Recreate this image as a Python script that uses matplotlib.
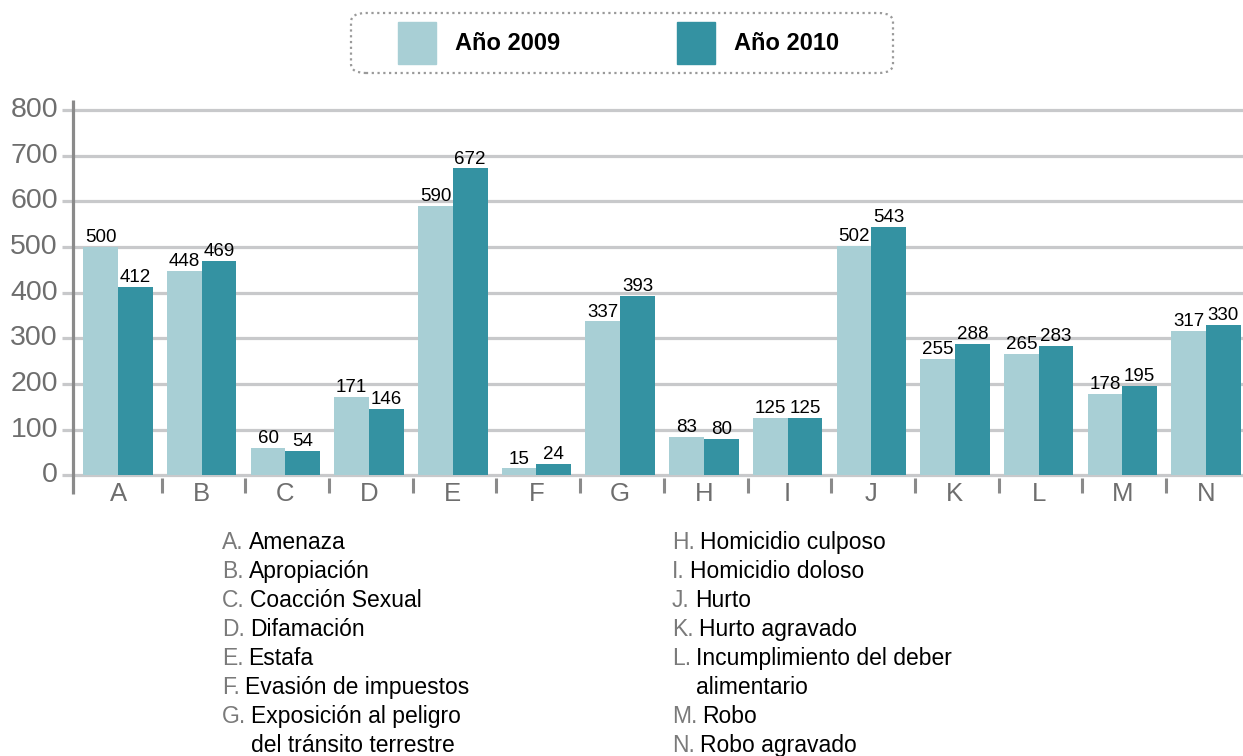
import matplotlib.pyplot as plt
from matplotlib.patches import FancyBboxPatch, Rectangle
import numpy as np

plt.rcParams["font.family"] = ["Liberation Sans", "DejaVu Sans"]

# Data
letters = ["A", "B", "C", "D", "E", "F", "G", "H", "I", "J", "K", "L", "M", "N"]
crimes = [
    "Amenaza",
    "Apropiación",
    "Coacción Sexual",
    "Difamación",
    "Estafa",
    "Evasión de impuestos",
    "Exposición al peligro\ndel tránsito terrestre",
    "Homicidio culposo",
    "Homicidio doloso",
    "Hurto",
    "Hurto agravado",
    "Incumplimiento del deber\nalimentario",
    "Robo",
    "Robo agravado",
]
values_2009 = [500, 448, 60, 171, 590, 15, 337, 83, 125, 502, 255, 265, 178, 317]
values_2010 = [412, 469, 54, 146, 672, 24, 393, 80, 125, 543, 288, 283, 195, 330]
series_names = ["Año 2009", "Año 2010"]
y_ticks = [0, 100, 200, 300, 400, 500, 600, 700, 800]

light = "#a8cfd5"
dark = "#3492a2"
grid_col = "#c8c9cb"
axis_col = "#8a8a8a"
label_col = "#6e6e6e"

W, H = 1243, 756
fig = plt.figure(figsize=(W / 100, H / 100), dpi=100)

# axes placed in pixel terms
ax_left, ax_right, ax_top, ax_bottom = 73, 1243, 100, 494
ax = fig.add_axes([ax_left / W, 1 - ax_bottom / H,
                   (ax_right - ax_left) / W, (ax_bottom - ax_top) / H])
ax.set_xlim(-0.06, 13.92)
ax.set_ylim(-41, 822)
for s in ax.spines.values():
    s.set_visible(False)
ax.set_xticks([])
ax.set_yticks([])

# gridlines with a short stub left of the axis
ax.hlines(y_ticks, -0.19, 13.92, colors=grid_col, linewidth=2.3,
          clip_on=False, zorder=0)
ax.vlines(-0.06, -41, 822, colors=axis_col, linewidth=2.3, clip_on=False,
          zorder=3)
for t in y_ticks:
    ax.text(-0.24, t, str(t), ha="right", va="center", fontsize=20.5,
            color=label_col)

# group boundary ticks
ax.vlines(np.arange(1, 14), -5, -38, colors=axis_col, linewidth=2.2, zorder=3)

x = np.arange(len(letters))
bw = 0.415
centre = x + 0.478
ax.bar(centre - bw, values_2009, width=bw, align="edge", color=light, zorder=2)
ax.bar(centre, values_2010, width=bw, align="edge", color=dark, zorder=2)

for c, v in zip(centre - bw / 2, values_2009):
    ax.text(c, v + 2, str(v), ha="center", va="bottom", fontsize=13.5,
            color="black")
for c, v in zip(centre + bw / 2, values_2010):
    ax.text(c, v + 2, str(v), ha="center", va="bottom", fontsize=13.5,
            color="black")

for i, lab in enumerate(letters):
    ax.text(centre[i], -42, lab, ha="center", va="center", fontsize=18.5,
            color=label_col)

# top legend box
box = FancyBboxPatch((351 / W, 1 - 73 / H), (893 - 351) / W, (73 - 13) / H,
                     boxstyle="round,pad=0,rounding_size=0.012",
                     transform=fig.transFigure, fill=False,
                     edgecolor="#9a9a9a", linestyle=(0, (1, 1.6)),
                     linewidth=1.6)
fig.patches.append(box)
for px, name, col in [(398, series_names[0], light), (677, series_names[1], dark)]:
    fig.patches.append(Rectangle((px / W, 1 - 64 / H), 38 / W, 42 / H,
                                 transform=fig.transFigure, color=col))
    fig.text((px + 57) / W, 1 - 44 / H, name, ha="left", va="center",
             fontsize=17, fontweight="bold", color="black")

# bottom key of letters
fig.canvas.draw()
renderer = fig.canvas.get_renderer()
col_x = [222, 672]
row_y0, row_dy = 549, 29
row = 0
for i, (let, name) in enumerate(zip(letters, crimes)):
    if i == 7:
        row = 0
    cx = col_x[0] if i < 7 else col_x[1]
    y = row_y0 + row * row_dy
    t = fig.text(cx / W, 1 - y / H, let + ".", ha="left", va="baseline",
                 fontsize=16.5, color="#7a7a7a")
    bb = t.get_window_extent(renderer)
    for line in name.split("\n"):
        y = row_y0 + row * row_dy
        fig.text((bb.x1 + 5) / W, 1 - y / H, line, ha="left", va="baseline",
                 fontsize=16.5, color="black")
        row += 1

fig.savefig("out.png", dpi=100)
